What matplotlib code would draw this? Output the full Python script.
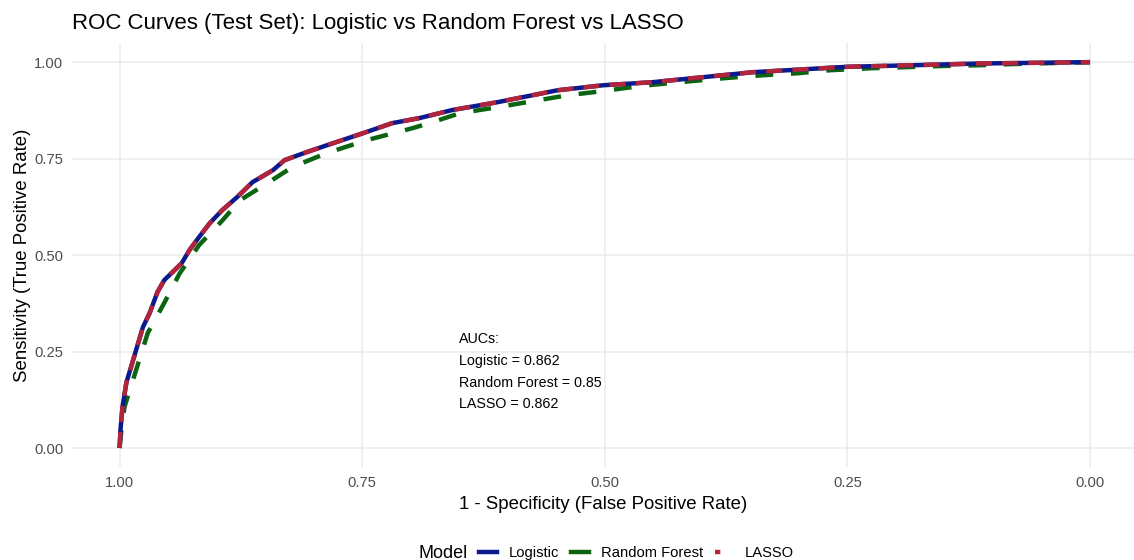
import matplotlib
matplotlib.use("Agg")
import matplotlib.pyplot as plt
from matplotlib.lines import Line2D

plt.rcParams['font.family'] = ['Liberation Sans', 'DejaVu Sans']

# ROC points (specificity, sensitivity) ######################################
spec_logistic = [1.0, 0.999, 0.997, 0.993, 0.987, 0.976, 0.969, 0.961, 0.954,
                 0.936, 0.928, 0.918, 0.907, 0.894, 0.879, 0.863, 0.842, 0.830,
                 0.807, 0.780, 0.749, 0.719, 0.691, 0.657, 0.611, 0.549, 0.502,
                 0.451, 0.399, 0.347, 0.312, 0.250, 0.182, 0.113, 0.0]
sens_logistic = [0.0, 0.05, 0.106, 0.17, 0.22, 0.313, 0.35, 0.404, 0.435,
                 0.479, 0.513, 0.547, 0.583, 0.617, 0.65, 0.689, 0.72, 0.746,
                 0.767, 0.79, 0.816, 0.842, 0.855, 0.876, 0.896, 0.927, 0.940,
                 0.948, 0.961, 0.974, 0.979, 0.988, 0.992, 0.9965, 1.0]

spec_rf = [1.0, 0.998, 0.995, 0.982, 0.971, 0.954, 0.938, 0.918, 0.894, 0.876,
           0.848, 0.822, 0.787, 0.745, 0.698, 0.677, 0.649, 0.611, 0.539, 0.502,
           0.464, 0.423, 0.374, 0.337, 0.302, 0.268, 0.227, 0.189, 0.152, 0.113,
           0.079, 0.0]
sens_rf = [0.0, 0.05, 0.106, 0.21, 0.298, 0.376, 0.453, 0.526, 0.59, 0.642,
           0.686, 0.728, 0.764, 0.798, 0.829, 0.845, 0.868, 0.883, 0.914, 0.925,
           0.938, 0.948, 0.959, 0.966, 0.971, 0.979, 0.984, 0.987, 0.990, 0.992,
           0.995, 1.0]

spec_lasso = [1.0, 0.999, 0.997, 0.993, 0.987, 0.976, 0.969, 0.961, 0.954,
              0.936, 0.928, 0.918, 0.907, 0.894, 0.879, 0.863, 0.842, 0.830,
              0.807, 0.780, 0.749, 0.719, 0.691, 0.657, 0.611, 0.549, 0.502,
              0.451, 0.399, 0.347, 0.312, 0.250, 0.182, 0.113, 0.0]
sens_lasso = [0.0, 0.05, 0.106, 0.17, 0.22, 0.313, 0.35, 0.404, 0.435,
              0.479, 0.513, 0.547, 0.583, 0.617, 0.65, 0.689, 0.72, 0.746,
              0.767, 0.79, 0.816, 0.842, 0.855, 0.876, 0.896, 0.927, 0.940,
              0.948, 0.961, 0.974, 0.979, 0.988, 0.992, 0.9965, 1.0]

models = ['Logistic', 'Random Forest', 'LASSO']
aucs = [0.862, 0.85, 0.862]
ticks = [1.0, 0.75, 0.5, 0.25, 0.0]
tick_labels = ['1.00', '0.75', '0.50', '0.25', '0.00']

colors = ['#0A1A8C', '#0B6410', '#B2243A']
grey = '#4D4D4D'

fig = plt.figure(figsize=(11.34, 5.6), dpi=100)
ax = fig.add_axes([0.0631, 0.1655, 0.937, 0.758])

lw = 3.2
ax.plot(spec_logistic, sens_logistic, color=colors[0], lw=lw,
        solid_capstyle='butt', zorder=3)
ax.plot(spec_rf, sens_rf, color=colors[1], lw=lw, dashes=(4, 4),
        dash_capstyle='butt', zorder=2)
ax.plot(spec_lasso, sens_lasso, color=colors[2], lw=lw, dashes=(3.6, 2.3),
        dash_capstyle='butt', zorder=4)

ax.set_xlim(1.0495, -0.0454)
ax.set_ylim(-0.05, 1.05)
ax.set_xticks(ticks)
ax.set_xticklabels(tick_labels)
ax.set_yticks(ticks)
ax.set_yticklabels(tick_labels)
ax.tick_params(length=0, colors=grey, labelsize=10.6, pad=6)
ax.grid(True, color='#EBEBEB', lw=1.1)
ax.set_axisbelow(True)
for s in ax.spines.values():
    s.set_visible(False)

ax.set_xlabel('1 - Specificity (False Positive Rate)', fontsize=13.4)
ax.set_ylabel('Sensitivity (True Positive Rate)', fontsize=13.4)
ax.xaxis.set_label_coords(0.5, -0.067)
ax.yaxis.label.set_va('center')
ax.yaxis.set_label_coords(-0.046, 0.5)
ax.set_title('ROC Curves (Test Set): Logistic vs Random Forest vs LASSO',
             loc='left', fontsize=16, pad=10)

auc_text = 'AUCs:\n' + '\n'.join(f'{m} = {a:g}' for m, a in zip(models, aucs))
ax.text(0.65, 0.198, auc_text, ha='left', va='center', fontsize=10.3,
        linespacing=1.72)

# legend at the bottom, title to the left like ggplot
handles = [Line2D([], [], color=colors[0], lw=lw),
           Line2D([], [], color=colors[1], lw=lw),
           Line2D([], [], color=colors[2], lw=lw, dashes=(1.2, 3))]
fig.text(418 / 1134, 1 - 553 / 560, 'Model', ha='left', va='center',
         fontsize=13)
fig.legend(handles, models, loc='center left', ncol=3, frameon=False,
           bbox_to_anchor=(479 / 1134, 1 - 553 / 560), borderaxespad=0,
           borderpad=0, fontsize=10.6, handlelength=1.22, handletextpad=0.8,
           columnspacing=0.8)

fig.savefig('out.png', dpi=100, facecolor='white')
